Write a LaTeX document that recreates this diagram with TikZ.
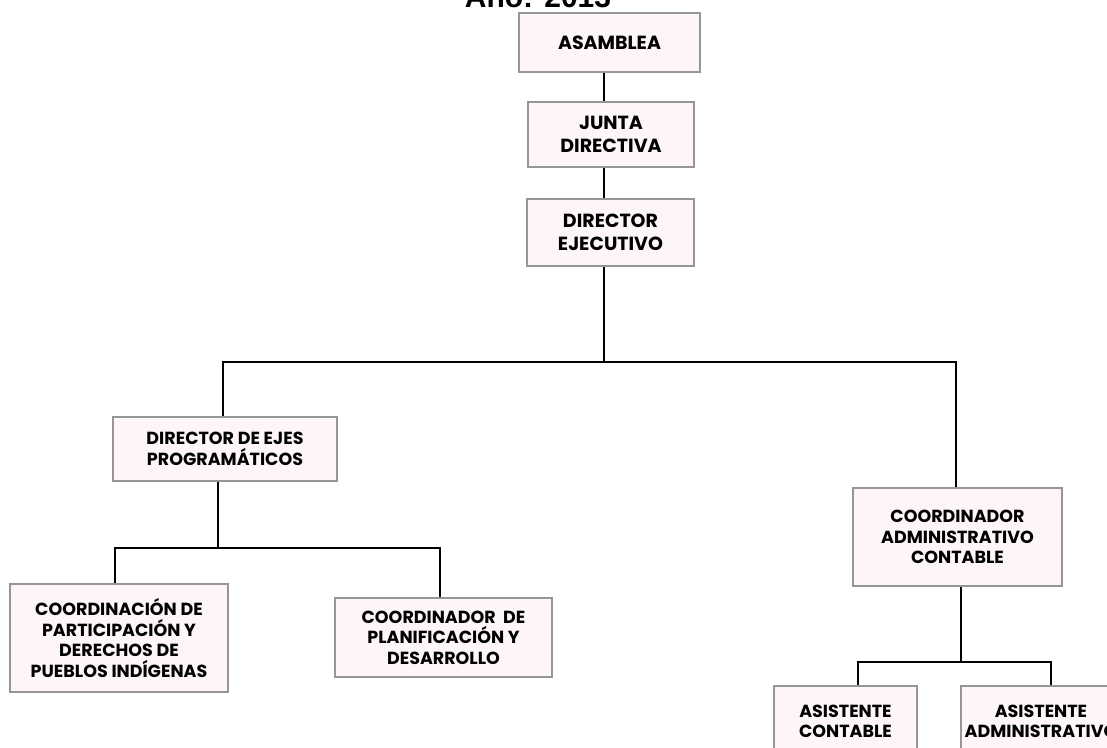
\documentclass[tikz,border=0pt]{standalone}
\usepackage{fontspec}
\setmainfont{Poppins}
\newfontfamily\titlefont{Liberation Sans}
\definecolor{boxfill}{RGB}{253,245,250}
\definecolor{boxedge}{RGB}{150,150,150}
\tikzset{
    unit/.style={draw=boxedge, line width=2pt, fill=boxfill, align=center,
        inner sep=2pt, font=\bfseries\fontsize{19}{23}\selectfont},
    subunit/.style={unit, font=\bfseries\fontsize{17.5}{20.5}\selectfont},
    link/.style={black, line width=2pt}
}
\begin{document}
\begin{tikzpicture}[x=1pt,y=-1pt]
    % Frame
    \useasboundingbox (0,0) rectangle (1107,747);
    \node[anchor=base, font=\titlefont\bfseries\fontsize{30}{32}\selectfont] (title) at (538,7) {Año: 2013};

    % Top of the chart
    \node[unit, minimum width=181pt, minimum height=59pt] (asamblea) at (609.5,42.5) {ASAMBLEA};
    \node[unit, minimum width=166pt, minimum height=65pt] (junta) at (611,134.5) {JUNTA\\DIRECTIVA};
    \node[unit, minimum width=167pt, minimum height=67pt] (dirEj) at (610.5,232.5) {DIRECTOR\\EJECUTIVO};

    % Second level
    \node[subunit, minimum width=224pt, minimum height=64pt] (ejes) at (225,449) {DIRECTOR DE EJES\\PROGRAMÁTICOS};
    \node[subunit, minimum width=209pt, minimum height=98pt] (coordAdm) at (957.5,537) {COORDINADOR\\ADMINISTRATIVO\\CONTABLE};

    % Third level
    \node[subunit, minimum width=218pt, minimum height=108pt] (coordPart) at (119,638) {COORDINACIÓN DE\\PARTICIPACIÓN Y\\DERECHOS DE\\PUEBLOS INDÍGENAS};
    \node[subunit, minimum width=217pt, minimum height=79pt] (coordPlan) at (443.5,637.5) {COORDINADOR~ DE\\PLANIFICACIÓN Y\\DESARROLLO};
    \node[subunit, minimum width=143pt, minimum height=71pt] (asisCont) at (845.5,721.5) {ASISTENTE\\CONTABLE};
    \node[subunit, minimum width=160pt, minimum height=71pt] (asisAdm) at (1041,721.5) {ASISTENTE\\ADMINISTRATIVO};

    % Connectors
    \coordinate (bus) at (604,362);
    \coordinate (bus2) at (218,548);
    \coordinate (bus3) at (961,662);
    \draw[link] (asamblea.south -| bus) -- (junta.north -| bus);
    \draw[link] (junta.south -| bus) -- (dirEj.north -| bus);
    \draw[link] (dirEj.south -| bus) -- (bus);
    \draw[link] ([xshift=-2pt]ejes.north) |- (bus) -| ([xshift=-1.5pt]coordAdm.north);
    \draw[link] (ejes.south -| bus2) -- (bus2);
    \draw[link] ([xshift=-4pt]coordPart.north) |- (bus2) -| ([xshift=-3.5pt]coordPlan.north);
    \draw[link] (coordAdm.south -| bus3) -- (bus3);
    \draw[link] ([xshift=12.5pt]asisCont.north) |- (bus3) -| ([xshift=10pt]asisAdm.north);
\end{tikzpicture}
\end{document}
